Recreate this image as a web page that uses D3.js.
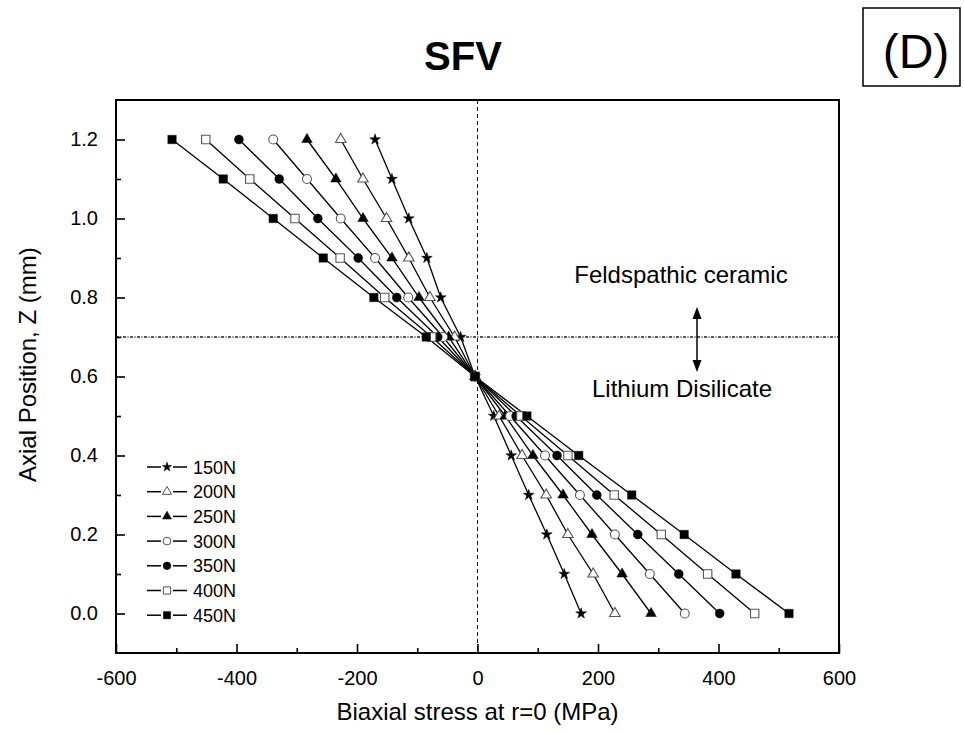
<!DOCTYPE html>
<html>
<head>
<meta charset="utf-8">
<script src="https://cdn.jsdelivr.net/npm/d3@7"></script>
<style>
  html, body { margin: 0; padding: 0; background: #fff; }
  svg { display: block; font-family: "Liberation Sans", Arial, sans-serif; }
</style>
</head>
<body>
<svg id="chart" width="964" height="734"></svg>
<script>
// ---------------- data ----------------
const zPositions = [0.0, 0.1, 0.2, 0.3, 0.4, 0.5, 0.6, 0.7, 0.8, 0.9, 1.0, 1.1, 1.2];
const seriesNames = ["150N", "200N", "250N", "300N", "350N", "400N", "450N"];
const stress150 = [172, 144, 115, 85, 56, 27, -4, -28, -61, -84, -114, -142, -170];
const stress200 = [228, 192, 150, 114, 74, 36, -4, -38, -79, -114, -151, -190, -227];
const stress250 = [288, 240, 190, 142, 92, 46, -4, -48, -97, -142, -190, -235, -283];
const stress300 = [344, 286, 228, 170, 112, 54, -4, -57, -115, -170, -227, -283, -339];
const stress350 = [402, 334, 266, 198, 132, 64, -4, -66, -134, -198, -265, -329, -396];
const stress400 = [460, 382, 305, 227, 150, 72, -4, -76, -154, -228, -303, -378, -451];
const stress450 = [517, 429, 343, 256, 168, 82, -4, -85, -172, -256, -339, -422, -507];
const xTicks = [-600, -400, -200, 0, 200, 400, 600];
const xMinorTicks = [-500, -300, -100, 100, 300, 500];
const yTicks = [0.0, 0.2, 0.4, 0.6, 0.8, 1.0, 1.2];
const yMinorTicks = [0.1, 0.3, 0.5, 0.7, 0.9, 1.1];
const interfaceZ = 0.7;
const titleText = "SFV";
const panelLabel = "(D)";
const xTitle = "Biaxial stress at r=0 (MPa)";
const yTitle = "Axial Position, Z (mm)";
const upperLabel = "Feldspathic ceramic";
const lowerLabel = "Lithium Disilicate";

const allStress = [stress150, stress200, stress250, stress300, stress350, stress400, stress450];
// marker style per series: [symbol, filled]
const markerStyles = [
  [d3.symbolStar, true],
  [d3.symbolTriangle, false],
  [d3.symbolTriangle, true],
  [d3.symbolCircle, false],
  [d3.symbolCircle, true],
  [d3.symbolSquare, false],
  [d3.symbolSquare, true]
];
const markerSizes = { star: 36, tri: 48, circ: 62, sq: 70 };
function symSize(sym) {
  if (sym === d3.symbolStar) return markerSizes.star;
  if (sym === d3.symbolTriangle) return markerSizes.tri;
  if (sym === d3.symbolCircle) return markerSizes.circ;
  return markerSizes.sq;
}

const series = seriesNames.map((name, i) => ({
  name,
  symbol: markerStyles[i][0],
  filled: markerStyles[i][1],
  points: zPositions.map((z, j) => ({ z, s: allStress[i][j] }))
}));

// ---------------- layout ----------------
const svg = d3.select("#chart");
const plot = { left: 116, right: 839, top: 100, bottom: 653 };
const x = d3.scaleLinear().domain([-600, 600]).range([plot.left, plot.right]);
const y = d3.scaleLinear().domain([-0.1, 1.3]).range([plot.bottom, plot.top]);

// reference lines
svg.append("line")
  .attr("x1", x(0)).attr("x2", x(0))
  .attr("y1", plot.top).attr("y2", plot.bottom)
  .attr("stroke", "#111").attr("stroke-width", 1)
  .attr("stroke-dasharray", "4,3");
svg.append("line")
  .attr("x1", plot.left).attr("x2", plot.right)
  .attr("y1", y(interfaceZ)).attr("y2", y(interfaceZ))
  .attr("stroke", "#222").attr("stroke-width", 1.3)
  .attr("stroke-dasharray", "3,1.5,1,1.5");

// series lines
const lineGen = d3.line().x(d => x(d.s)).y(d => y(d.z));
const gSeries = svg.append("g");
series.forEach(se => {
  gSeries.append("path")
    .datum(se.points)
    .attr("fill", "none")
    .attr("stroke", "#000")
    .attr("stroke-width", 1.3)
    .attr("d", lineGen);
});
series.forEach(se => {
  gSeries.selectAll(null)
    .data(se.points)
    .join("path")
    .attr("transform", d => `translate(${x(d.s)},${y(d.z)})`)
    .attr("d", d3.symbol().type(se.symbol).size(symSize(se.symbol)))
    .attr("fill", se.filled ? "#000" : "#fff")
    .attr("stroke", se.filled ? "#000" : "#555")
    .attr("stroke-width", se.filled ? 0.5 : 1.1);
});

// axes
const fmtX = d => String(d);
const fmtY = d => d.toFixed(1);
const axisFont = 20;

const gx = svg.append("g").attr("transform", `translate(0,${plot.bottom})`);
gx.call(d3.axisBottom(x).tickValues(xTicks).tickSize(-9).tickFormat(fmtX).tickPadding(18));
gx.append("g").call(d3.axisBottom(x).tickValues(xMinorTicks).tickSize(-5).tickFormat(""));
const gy = svg.append("g").attr("transform", `translate(${plot.left},0)`);
gy.call(d3.axisLeft(y).tickValues(yTicks).tickSize(-9).tickFormat(fmtY).tickPadding(18));
gy.append("g").call(d3.axisLeft(y).tickValues(yMinorTicks).tickSize(-5).tickFormat(""));
[gx, gy].forEach(g => {
  g.selectAll(".domain").remove();
  g.selectAll(".tick line").attr("stroke", "#000").attr("stroke-width", 1.6);
  g.selectAll(".tick text").attr("font-size", axisFont).attr("fill", "#000")
    .attr("font-family", "Liberation Sans, Arial, sans-serif");
});

// frame
svg.append("rect")
  .attr("x", plot.left).attr("y", plot.top)
  .attr("width", plot.right - plot.left).attr("height", plot.bottom - plot.top)
  .attr("fill", "none").attr("stroke", "#000").attr("stroke-width", 2);

// axis titles
svg.append("text")
  .attr("x", (plot.left + plot.right) / 2).attr("y", 720)
  .attr("text-anchor", "middle").attr("font-size", 24).attr("fill", "#000")
  .text(xTitle);
svg.append("text")
  .attr("transform", `translate(36,${y(0.63)}) rotate(-90)`)
  .attr("text-anchor", "middle").attr("font-size", 24).attr("fill", "#000")
  .text(yTitle);

// title
svg.append("text")
  .attr("x", 463).attr("y", 70)
  .attr("text-anchor", "middle").attr("font-size", 40).attr("font-weight", "bold")
  .attr("fill", "#000").text(titleText);

// panel label box
svg.append("rect")
  .attr("x", 863).attr("y", 8).attr("width", 97).attr("height", 78)
  .attr("fill", "#fff").attr("stroke", "#000").attr("stroke-width", 1.5);
svg.append("text")
  .attr("x", 916).attr("y", 68)
  .attr("text-anchor", "middle").attr("font-size", 48).attr("fill", "#000")
  .text(panelLabel);

// layer annotations
svg.append("text")
  .attr("x", 681).attr("y", 283)
  .attr("text-anchor", "middle").attr("font-size", 24).attr("fill", "#000")
  .text(upperLabel);
svg.append("text")
  .attr("x", 682).attr("y", 397)
  .attr("text-anchor", "middle").attr("font-size", 24).attr("fill", "#000")
  .text(lowerLabel);
// double arrow
const ax = 697, aTop = 307, aBot = 372;
svg.append("line").attr("x1", ax).attr("x2", ax).attr("y1", aTop + 8).attr("y2", aBot - 8)
  .attr("stroke", "#000").attr("stroke-width", 1.5);
svg.append("path").attr("d", `M${ax},${aTop} L${ax - 4.5},${aTop + 12} L${ax + 4.5},${aTop + 12} Z`).attr("fill", "#000");
svg.append("path").attr("d", `M${ax},${aBot} L${ax - 4.5},${aBot - 12} L${ax + 4.5},${aBot - 12} Z`).attr("fill", "#000");

// legend
const legend = svg.append("g").attr("transform", "translate(147,467)");
series.forEach((se, i) => {
  const g = legend.append("g").attr("transform", `translate(0,${i * 24.7})`);
  g.append("line").attr("x1", 0).attr("x2", 14).attr("y1", 0).attr("y2", 0)
    .attr("stroke", "#000").attr("stroke-width", 1.5);
  g.append("line").attr("x1", 26).attr("x2", 40).attr("y1", 0).attr("y2", 0)
    .attr("stroke", "#000").attr("stroke-width", 1.5);
  g.append("path").attr("transform", "translate(20,0)")
    .attr("d", d3.symbol().type(se.symbol).size(symSize(se.symbol) * 0.75))
    .attr("fill", se.filled ? "#000" : "#fff")
    .attr("stroke", se.filled ? "#000" : "#555")
    .attr("stroke-width", se.filled ? 0.5 : 1);
  g.append("text").attr("x", 46).attr("y", 6.5)
    .attr("font-size", 18).attr("fill", "#000").text(se.name);
});
</script>
</body>
</html>
